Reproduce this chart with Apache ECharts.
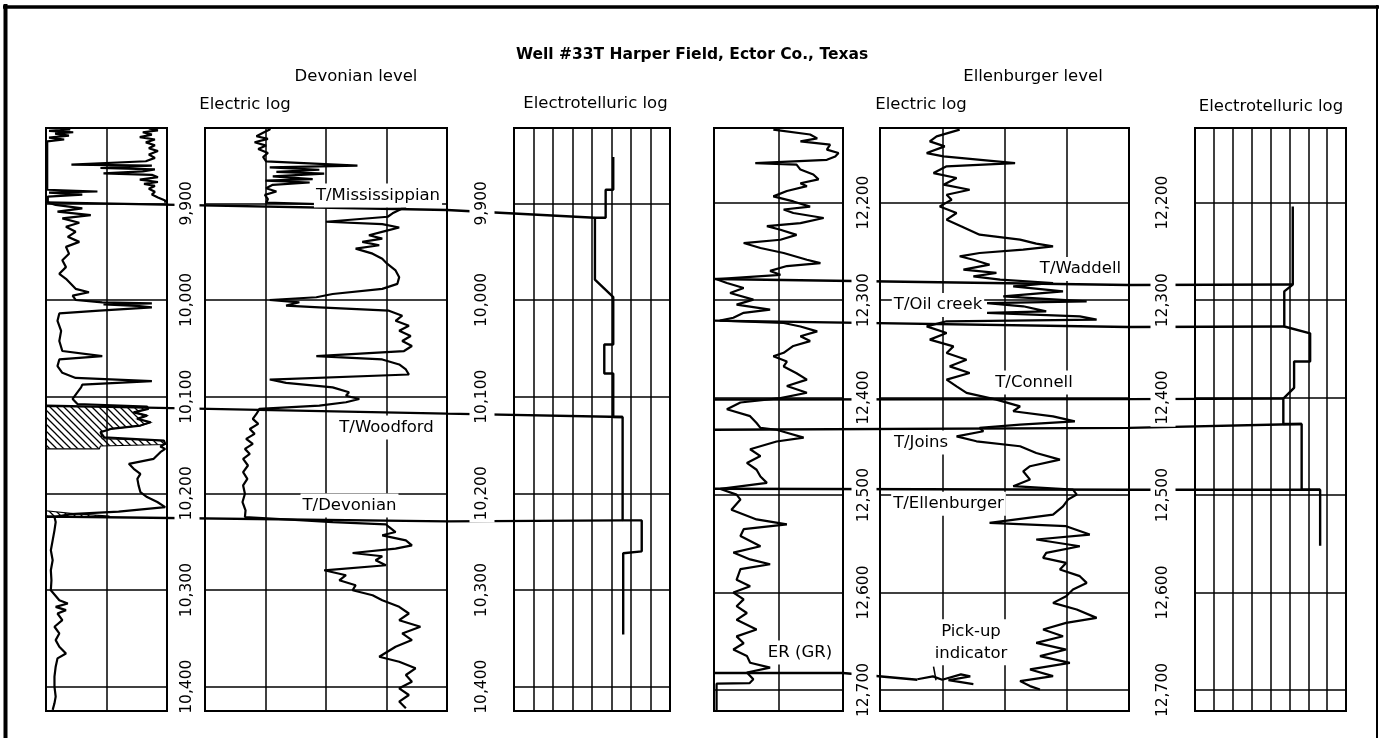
<!DOCTYPE html>
<html><head><meta charset="utf-8">
<script src="https://cdn.jsdelivr.net/npm/echarts@6/dist/echarts.min.js"></script>
<style>html,body{margin:0;padding:0;background:#fff}#c{width:1380px;height:738px}</style>
</head><body><div id="c"></div>
<script>
// ================= DATA =================
const devDepthTicks = [9900, 10000, 10100, 10200, 10300, 10400];
const devTickLabels = ['9,900', '10,000', '10,100', '10,200', '10,300', '10,400'];
const ellDepthTicks = [12200, 12300, 12400, 12500, 12600, 12700];
const ellTickLabels = ['12,200', '12,300', '12,400', '12,500', '12,600', '12,700'];

// Devonian level - electric log, left track  [reading, depth ft]
const devLeftUpper = [[1.7,9822.5],[1.85,9824.5],[1.6,9826.5],[1.75,9829],[1.55,9831.5],[1.8,9834],[1.65,9837],[1.8,9840],[1.7,9843],[1.85,9846],[1.7,9849.5],[1.8,9853],[1.65,9856.5],[0.42,9860],[1.75,9861],[0.9,9863.5],[1.8,9865],[1.6,9867],[0.95,9869],[1.75,9870.5],[1.85,9873],[1.55,9875.5],[1.85,9878],[1.62,9880],[1.8,9882],[1.7,9885],[1.8,9888],[1.75,9891],[1.85,9894],[1.97,9897],[1.97,9899.5]];
const devLeftMain = [[0.1,9821],[0.4,9823.5],[0.05,9825],[0.45,9826.5],[0.15,9828],[0.38,9830],[0.05,9832],[0.3,9834],[0.02,9836],[0.02,9886],[0.85,9887.8],[0.05,9889],[0.6,9891],[0.03,9893],[0.03,9899],
[0.16,9901.7],[0.6,9905.2],[0.19,9908.7],[0.74,9912.2],[0.27,9915.6],[0.55,9920.1],[0.33,9924.3],[0.49,9929.5],[0.36,9934.7],[0.55,9939.9],[0.33,9945.1],[0.38,9952.1],[0.27,9959],[0.33,9966],[0.22,9972.9],[0.33,9978.1],[0.41,9983.3],[0.49,9988.5],[0.71,9992],[0.44,9995.5],[0.49,10000],[0.93,10002.4],[1.75,10003.5],[0.95,10004.5],[1.5,10006],[1.75,10007.6],[0.88,10011.1],[0.22,10013.9],[0.19,10021.5],[0.25,10031.9],[0.22,10042.4],[0.27,10052.8],[0.93,10058],[0.22,10061.5],[0.19,10068.4],[0.27,10075.3],[0.49,10080.6],[1.75,10084],[0.6,10087.5],[0.58,10090.4],[0.5,10097.2],[0.44,10102.4],[0.52,10107.6],
[1.67,10110.3],[1.69,10112.7],[1.45,10116.2],[1.67,10119.6],[1.51,10123],[1.73,10126.5],[1.56,10129.9],[1.07,10133.4],[0.9,10136.8],[0.96,10142],[1.95,10145.4],[1.97,10148.8],[1.89,10151.6],[1.97,10154],[1.89,10157.4],[1.78,10164.3],[1.37,10169.5],[1.45,10174.6],[1.56,10179.8],[1.51,10185],[1.53,10191.8],[1.56,10198.7],[1.67,10203.9],[1.84,10209],[1.97,10214.2],[1.2,10219],[0.4,10221.5],[0.14,10224.5],
[0.16,10229.7],[0.14,10238.3],[0.11,10248.6],[0.08,10258.9],[0.11,10269.2],[0.08,10279.6],[0.09,10289.9],[0.08,10300.2],[0.22,10310.5],[0.36,10314],[0.16,10317.4],[0.33,10320.8],[0.19,10324.3],[0.27,10331.2],[0.14,10338],[0.22,10344.9],[0.16,10351.8],[0.22,10358.7],[0.33,10365.6],[0.19,10370.7],[0.16,10379.3],[0.14,10389.6],[0.14,10400],[0.16,10410.3],[0.14,10417.2],[0.11,10424]];
const devLeftHatchA = [[0,10110.3],[1.67,10110.3],[1.69,10112.7],[1.45,10116.2],[1.67,10119.6],[1.51,10123],[1.73,10126.5],[1.56,10129.9],[1.07,10133.4],[0.9,10136.8],[0.93,10143.5],[1.95,10145.4],[1.97,10149.5],[0.9,10151],[0.88,10154],[0,10154]];
const devLeftHatchB = [[0,10218],[0.45,10221],[1.05,10223.5],[0,10225]];

// Devonian level - electric log, resistivity track
const devRes = [[1.07,9821],[1.07,9823.6],[0.96,9827.1],[0.85,9830.6],[1.04,9833.3],[0.82,9836.8],[1.01,9840.3],[0.88,9843.8],[1.04,9847.9],[0.96,9852.1],[1.01,9856.6],[2.52,9861.1],[1.07,9862.8],[1.89,9865.3],[1.18,9867.4],[1.97,9869.4],[1.12,9872.2],[1.78,9875],[1.0,9876.5],[1.73,9878.5],[1.12,9880.9],[1.01,9884.4],[1.18,9887.8],[0.99,9891.3],[1.04,9895.8],[1.01,9899.3],
[3.32,9903.5],[3.21,9906.9],[3.1,9910.4],[3.02,9913.9],[2.0,9919.1],[2.93,9921.5],[3.21,9925],[2.99,9928.5],[2.71,9933],[2.93,9936.5],[2.6,9939.9],[2.88,9943.4],[2.49,9946.9],[2.77,9952.1],[2.93,9957.3],[3.01,9962.5],[3.15,9969.4],[3.21,9976.4],[3.18,9983.3],[2.93,9988.5],[2.11,9993.8],[1.84,9997.2],[1.07,10000],[1.56,10002.4],[1.34,10005.9],[1.89,10007.6],[3.04,10011.1],[3.26,10016.3],[3.15,10021.5],[3.37,10026.7],[3.21,10031.9],[3.4,10037.2],[3.26,10042.4],[3.42,10047.6],[3.29,10052.8],[1.84,10058],[2.93,10061.5],[3.21,10066.7],[3.32,10071.9],[3.37,10077.1],[1.07,10082.3],[1.34,10085.8],[2.11,10090.4],[2.38,10095.5],[2.33,10099],[2.55,10102.4],[2.33,10105.8],[1.89,10109.3],
[0.9,10112.7],[0.85,10117.9],[0.79,10123],[0.88,10128.2],[0.74,10133.4],[0.82,10138.5],[0.68,10143.7],[0.79,10148.8],[0.66,10154],[0.74,10159.2],[0.63,10164.3],[0.71,10171.2],[0.63,10178.1],[0.7,10185],[0.63,10191.8],[0.66,10200.4],[0.62,10209],[0.67,10217.6],[0.66,10224.5],
[2.11,10229.7],[2.99,10232],[3.04,10234.8],[3.15,10240],[2.93,10243.4],[3.32,10248.6],[3.42,10253.8],[3.15,10257.2],[2.44,10261.7],[2.93,10265.1],[2.82,10269.2],[2.99,10274.4],[1.97,10279.6],[2.33,10284.7],[2.22,10289.9],[2.49,10295],[2.44,10300.2],[2.77,10305.4],[2.93,10310.5],[3.21,10317.4],[3.37,10324.3],[3.21,10331.2],[3.56,10338],[3.26,10344.9],[3.42,10351.8],[3.15,10358.7],[2.88,10369],[3.21,10374.2],[3.48,10381],[3.32,10387.9],[3.42,10394.8],[3.21,10401.7],[3.37,10408.6],[3.21,10415.4],[3.32,10422.3]];

// Devonian level - electrotelluric log (grid columns 0..8)
const devET = [[5.09,9852],[5.09,9886],[4.7,9886],[4.7,9915],[4.15,9915],[4.15,9979],[5.09,9997],[5.09,10046],[4.63,10046],[4.63,10076],[5.09,10076],[5.09,10121],[5.57,10121],[5.57,10228],[6.55,10228],[6.55,10260],[5.6,10262],[5.6,10346]];

// Ellenburger level - ER (GR) track
const ellGR = [[0.92,12125],[1.49,12130],[1.6,12134],[1.34,12137],[1.8,12140.5],[1.75,12145.6],[1.93,12149],[1.88,12152.5],[1.75,12156],[0.64,12159.3],[1.28,12161],[1.34,12166],[1.54,12171],[1.62,12176],[1.34,12180],[1.44,12183],[1.13,12188],[0.92,12193.5],[1.23,12198.7],[1.49,12204],[1.08,12207],[1.23,12210.6],[1.7,12215.7],[1.34,12221],[0.82,12224],[1.03,12227.7],[1.28,12233],[1.03,12238],[0.46,12241.4],[0.72,12246.5],[1.08,12251.6],[1.44,12258.5],[1.65,12262],[1.13,12265],[0.87,12270],[1.03,12274],[0.04,12278.5],
[0.2,12282.4],[0.46,12287.5],[0.25,12292.6],[0.61,12299.5],[0.35,12304.6],[0.87,12309.7],[0.46,12313],[0.3,12318],[0.09,12321],
[1.08,12323.4],[1.34,12327],[1.6,12332],[1.34,12337],[1.49,12342],[1.23,12347],[1.08,12354],[0.92,12357.6],[1.13,12363],[1.08,12368],[1.28,12375],[1.44,12381.5],[1.13,12388],[1.44,12395],[1.03,12400.5],
[0.41,12405],[0.2,12412],[0.56,12419],[0.66,12426],[0.72,12431],[0.97,12433],[1.13,12436],[1.39,12441],[0.97,12445],[0.56,12453],[0.72,12460],[0.51,12467],[0.66,12474],[0.72,12481],[0.82,12487.5],[0.1,12493.7],
[0.35,12499.5],[0.41,12504.6],[0.27,12515],[0.66,12525],[1.13,12530],[0.46,12535],[0.41,12542],[0.72,12552.5],[0.3,12559],[0.56,12566],[0.87,12571],[0.41,12576],[0.35,12587],[0.56,12593.5],[0.3,12600],[0.46,12607],[0.35,12614],[0.51,12621],[0.35,12628],[0.66,12638],[0.35,12645],[0.46,12652],[0.3,12658.5],[0.51,12665],[0.56,12672],[0.87,12677],[0.51,12682],[0.61,12689],[0.55,12693],[0.04,12693.5],[0.04,12721]];

// Ellenburger level - resistivity track
const ellRes = [[1.28,12125],[0.91,12131.9],[0.8,12137.1],[1.04,12142.2],[0.75,12149.1],[1.02,12152.5],[2.17,12159.3],[1.07,12162.7],[0.86,12169.6],[1.23,12174.7],[1.02,12181.5],[1.44,12186.7],[1.07,12191.8],[1.15,12196.9],[0.96,12203.8],[1.23,12210.6],[1.07,12217.4],[1.31,12224.3],[1.6,12232.8],[2.25,12237.9],[2.51,12242],[2.78,12244.8],[2.3,12248.2],[1.6,12251.6],[1.28,12255],[1.5,12258.5],[1.76,12263.6],[1.34,12268.7],[1.87,12272.1],[1.5,12275.6],[1.93,12279],
[2.78,12282.4],[2.14,12285.8],[2.94,12291],[1.98,12296.1],[3.32,12301.2],[1.72,12303],[2.3,12306.3],[2.67,12311.5],[1.72,12313],[3.21,12316.6],[3.48,12320],[1.07,12321.7],[0.75,12326.9],[1.07,12333.7],[0.8,12340.5],[1.18,12347.4],[1.07,12354.2],[1.39,12361.1],[1.12,12367.9],[1.44,12374.7],[1.07,12381.5],[1.23,12388.4],[1.39,12395.2],[1.87,12402],
[2.25,12409],[2.14,12414],[2.78,12419.2],[3.13,12424.3],[2.25,12427.7],[1.6,12431.1],[1.66,12434.5],[1.23,12439.7],[1.55,12444.8],[2.25,12449.9],[2.51,12456.8],[2.89,12463.6],[2.41,12470.4],[2.3,12475.6],[2.41,12484.1],[2.14,12490.9],[3.1,12494.4],[3.16,12499.5],[3.02,12504.6],[2.94,12511.5],[2.78,12520],[1.76,12528.5],[2.99,12531.9],[3.37,12540.5],[2.51,12545.6],[3.21,12552.5],[2.67,12559.3],[2.62,12564.4],[2.99,12569.6],[2.89,12576.4],[3.21,12583.2],[3.32,12590.1],[3.1,12596.9],[2.99,12603.8],[2.78,12610.6],[3.16,12617.4],[3.48,12626],[2.99,12631.1],[2.62,12637.9],[2.94,12644.8],[2.51,12651.6],[2.99,12658.5],[2.57,12665.3],[3.05,12672.1],[2.41,12678.9],[2.78,12685.8],[2.25,12690.9],[2.41,12696],[2.57,12699.5]];
const ellPickup = [[0.6,12689],[0.85,12686],[1.0,12689.5],[1.3,12684],[1.45,12686],[1.1,12690],[1.3,12692],[1.5,12694]];
const ellPickupTick = [[0.86,12676],[0.9,12690]];

// Ellenburger level - electrotelluric log (grid columns 0..8)
const ellET = [[5.18,12204],[5.18,12284],[4.73,12291],[4.73,12327],[6.1,12334],[6.1,12363],[5.25,12363],[5.25,12390],[4.68,12401],[4.68,12427],[5.65,12427],[5.65,12494.5],[6.63,12494.5],[6.63,12552]];

// Formation tops: depth at left edge of the electric log, at its right edge, and where it meets the ET curve
const devTopNames = ['T/Mississippian', 'T/Woodford', 'T/Devonian'];
const devTopStart = [9899, 10109.3, 10224];
const devTopMid   = [9907, 10117.5, 10229];
const devTopEnd   = [9915, 10121, 10228];
const devTopEtCol = [4.15, 5.57, 5.57];
const ellTopNames = ['T/Waddell', 'T/Oil creek', 'T/Connell', 'T/Joins', 'T/Ellenburger'];
const ellTopStart = [12278.3, 12321, 12402, 12433, 12493.5];
const ellTopMid   = [12284.5, 12327.5, 12401.5, 12431, 12494.5];
const ellTopEnd   = [12284, 12327, 12401, 12427, 12494.5];
const ellTopEtCol = [5.18, 4.73, 4.68, 5.65, 6.63];
const pickupDepths = [12682.5, 12682.5, 12689.5];

// ================= LAYOUT =================
const FONT = '"DejaVu Sans", "Liberation Sans", Arial, sans-serif';
const DEV = {y0: 203.3, d0: 9900, k: 0.9668};
const ELL = {y0: 202.7, d0: 12200, k: 0.9746};
const TOP = 128, BOT = 711;
function depthAt(sc, y) { return sc.d0 + (y - sc.y0) / sc.k; }
const tracks = [
  {left: 46, right: 167, cols: 2, sc: DEV},
  {left: 205, right: 447, cols: 4, sc: DEV},
  {left: 514, right: 670, cols: 8, sc: DEV},
  {left: 714, right: 843, cols: 2, sc: ELL},
  {left: 880, right: 1129, cols: 4, sc: ELL},
  {left: 1195, right: 1346, cols: 8, sc: ELL}
];
function colX(t, c) { return t.left + c * (t.right - t.left) / t.cols; }
const devLabelX = [187, 482];
const ellLabelX = [864, 1163];
const devAnnot = [
  {text: 'T/Mississippian', x: 378, d: 9892},
  {text: 'T/Woodford', x: 386.5, d: 10132},
  {text: 'T/Devonian', x: 349.5, d: 10212.6}
];
const ellAnnot = [
  {text: 'T/Waddell', x: 1080.5, d: 12268},
  {text: 'T/Oil creek', x: 938, d: 12305},
  {text: 'T/Connell', x: 1034, d: 12384.5},
  {text: 'T/Joins', x: 921, d: 12446},
  {text: 'T/Ellenburger', x: 948.5, d: 12509},
  {text: 'Pick-up\nindicator', x: 971, d: 12651},
  {text: 'ER (GR)', x: 800, d: 12661.5}
];

// ================= OPTION =================
const grid = [], xAxis = [], yAxis = [], series = [];
tracks.forEach((t, i) => {
  grid.push({left: t.left, top: TOP, width: t.right - t.left, height: BOT - TOP,
    show: true, borderColor: '#000', borderWidth: 2, backgroundColor: 'transparent'});
  xAxis.push({gridIndex: i, type: 'value', min: 0, max: t.cols, interval: 1,
    axisLine: {show: false}, axisTick: {show: false}, axisLabel: {show: false},
    splitLine: {show: true, lineStyle: {color: '#000', width: 1.5}}});
  yAxis.push({gridIndex: i, type: 'value', inverse: true,
    min: depthAt(t.sc, TOP), max: depthAt(t.sc, BOT),
    axisLine: {show: false}, axisTick: {show: false}, axisLabel: {show: false}, splitLine: {show: false}});
});
// overlays for correlation lines and labels
[DEV, ELL].forEach((sc, j) => {
  grid.push({left: 0, top: TOP, width: 1380, height: BOT - TOP, show: false});
  xAxis.push({gridIndex: 6 + j, type: 'value', min: 0, max: 1380, show: false, splitLine: {show: false}});
  yAxis.push({gridIndex: 6 + j, type: 'value', inverse: true, min: depthAt(sc, TOP), max: depthAt(sc, BOT), show: false, splitLine: {show: false}});
});

const curveStyle = {color: '#000', width: 2.2};
function curve(idx, data, extra) {
  return Object.assign({type: 'line', xAxisIndex: idx, yAxisIndex: idx, data: data, symbol: 'none',
    lineStyle: curveStyle, z: 3, silent: true, clip: true, animation: false}, extra || {});
}
function gridMark(ticks) {
  return {silent: true, symbol: 'none', animation: false, label: {show: false},
    lineStyle: {color: '#000', width: 1.5, type: 'solid'},
    data: ticks.map(d => ({yAxis: d}))};
}
series.push(curve(0, devLeftMain, {markLine: gridMark(devDepthTicks)}));
series.push(curve(0, devLeftUpper));
series.push(curve(1, devRes, {markLine: gridMark(devDepthTicks)}));
series.push(curve(2, devET, {lineStyle: {color: '#000', width: 2.4}, markLine: gridMark(devDepthTicks)}));
series.push(curve(3, ellGR, {markLine: gridMark(ellDepthTicks)}));
series.push(curve(4, ellRes, {markLine: gridMark(ellDepthTicks)}));
series.push(curve(4, ellPickup));
series.push(curve(4, ellPickupTick, {lineStyle: {color: '#000', width: 1.5}}));
series.push(curve(5, ellET, {lineStyle: {color: '#000', width: 2.4}, markLine: gridMark(ellDepthTicks)}));

// hatch pattern
const pat = (function () {
  const c = document.createElement('canvas'); c.width = 7; c.height = 7;
  const g = c.getContext('2d'); g.strokeStyle = '#000'; g.lineWidth = 1.3;
  g.beginPath(); g.moveTo(-1, -1); g.lineTo(8, 8); g.moveTo(-1, 6); g.lineTo(1, 8); g.moveTo(6, -1); g.lineTo(8, 1); g.stroke();
  return c;
})();
[devLeftHatchA, devLeftHatchB].forEach(poly => {
  series.push({type: 'custom', xAxisIndex: 0, yAxisIndex: 0, data: [[0, poly[0][1]]], z: 2, silent: true, animation: false, clip: true,
    renderItem: (params, api) => ({type: 'polygon', shape: {points: poly.map(p => api.coord(p))},
      style: {fill: {image: pat, repeat: 'repeat'}, stroke: '#000', lineWidth: 1.2}})});
});

// correlation lines
const corrStyle = {color: '#000', width: 2.4};
devTopNames.forEach((n, i) => {
  series.push(curve(6, [[tracks[0].left, devTopStart[i]], [tracks[1].right, devTopMid[i]], [colX(tracks[2], devTopEtCol[i]), devTopEnd[i]]], {lineStyle: corrStyle, z: 4}));
});
ellTopNames.forEach((n, i) => {
  series.push(curve(7, [[tracks[3].left, ellTopStart[i]], [tracks[4].right, ellTopMid[i]], [colX(tracks[5], ellTopEtCol[i]), ellTopEnd[i]]], {lineStyle: corrStyle, z: 4}));
});
series.push(curve(7, [[tracks[3].left, pickupDepths[0]], [tracks[3].right, pickupDepths[1]], [colX(tracks[4], 0.6), pickupDepths[2]]], {lineStyle: corrStyle, z: 4}));

// labels (depth values and formation names)
function labelSeries(idx, items, lab) {
  return {type: 'scatter', xAxisIndex: idx, yAxisIndex: idx, data: items, symbol: 'circle', symbolSize: 1, z: 6, silent: true, animation: false,
    itemStyle: {color: 'rgba(255,255,255,0)'},
    label: Object.assign({show: true, position: 'inside', formatter: '{b}', color: '#000', fontFamily: FONT,
      backgroundColor: '#fff', opacity: 1}, lab)};
}
const devDepthItems = [], ellDepthItems = [];
devLabelX.forEach(x => devDepthTicks.forEach((d, i) => devDepthItems.push({name: devTickLabels[i], value: [x, d]})));
ellLabelX.forEach(x => ellDepthTicks.forEach((d, i) => ellDepthItems.push({name: ellTickLabels[i], value: [x, d]})));
const depthLab = {rotate: 90, fontSize: 15.5, padding: [5, 2, 4, 2]};
series.push(labelSeries(6, devDepthItems, depthLab));
series.push(labelSeries(7, ellDepthItems, depthLab));
const annLab = {fontSize: 16.5, padding: [1, 2], lineHeight: 22, align: 'center'};
series.push(labelSeries(6, devAnnot.map(a => ({name: a.text, value: [a.x, a.d]})), annLab));
series.push(labelSeries(7, ellAnnot.map(a => ({name: a.text, value: [a.x, a.d]})), annLab));

function txt(x, y, s, font) {
  return {type: 'text', x: x, y: y, silent: true,
    style: {text: s, font: font, fill: '#000', align: 'center', verticalAlign: 'middle'}};
}
const F = '16.5px ' + FONT;
const graphic = [
  txt(692, 55, 'Well #33T Harper Field, Ector Co., Texas', 'bold 15.5px ' + FONT),
  txt(356, 77, 'Devonian level', F),
  txt(245, 105, 'Electric log', F),
  txt(595.5, 104, 'Electrotelluric log', F),
  txt(1033, 77, 'Ellenburger level', F),
  txt(921, 105, 'Electric log', F),
  txt(1271, 106.5, 'Electrotelluric log', F),
  {type: 'line', silent: true, shape: {x1: 5.5, y1: 4, x2: 5.5, y2: 738}, style: {stroke: '#000', lineWidth: 4}},
  {type: 'line', silent: true, shape: {x1: 3, y1: 7, x2: 1379, y2: 7}, style: {stroke: '#000', lineWidth: 3.5}},
  {type: 'line', silent: true, shape: {x1: 1377, y1: 5, x2: 1377, y2: 738}, style: {stroke: '#000', lineWidth: 2}}
];

const chart = echarts.init(document.getElementById('c'));
chart.setOption({backgroundColor: '#fff', animation: false, grid, xAxis, yAxis, series, graphic});
</script>
</body></html>
